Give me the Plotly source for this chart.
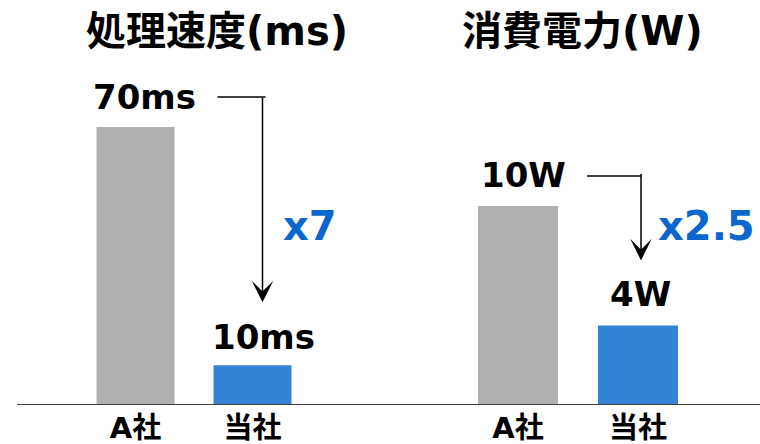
import plotly.graph_objects as go

# Data
companies = ["A社", "当社"]
speed_ms = [70, 10]
power_w = [10, 4]
speed_labels = ["70ms", "10ms"]
power_labels = ["10W", "4W"]
speed_ratio = "x7"
power_ratio = "x2.5"
titles = ["処理速度(ms)", "消費電力(W)"]

GRAY = "#afafaf"
BLUE = "#3483d6"
ACCENT = "#0b67cd"
FONT = "DejaVu Sans, Noto Sans CJK JP, sans-serif"

W, H = 760, 444

fig = go.Figure()
fig.add_trace(go.Bar(x=companies, y=speed_ms, marker=dict(color=[GRAY, BLUE], line=dict(width=0)),
                     xaxis="x", yaxis="y", hoverinfo="skip"))
fig.add_trace(go.Bar(x=companies, y=power_w, marker=dict(color=[GRAY, BLUE], line=dict(width=0)),
                     xaxis="x2", yaxis="y2", hoverinfo="skip"))

tickfont = dict(family=FONT, size=29, color="black", weight="bold")
common_x = dict(type="category", showgrid=False, zeroline=False, showline=False,
                ticks="", tickfont=tickfont, ticklabelstandoff=3, automargin=False,
                fixedrange=True)
common_y = dict(showgrid=False, zeroline=False, showline=False, showticklabels=False,
                automargin=False, domain=[39 / H, 1], fixedrange=True)

fig.update_layout(
    width=W, height=H,
    margin=dict(l=0, r=0, t=0, b=0, autoexpand=False),
    paper_bgcolor="white", plot_bgcolor="white",
    showlegend=False, bargap=1/3,
    xaxis=dict(domain=[77 / W, 317 / W], anchor="y", **common_x),
    yaxis=dict(range=[0, 405 / 3.97], anchor="x", **common_y),
    xaxis2=dict(domain=[458 / W, 698 / W], anchor="y2", **common_x),
    yaxis2=dict(range=[0, 405 / 19.9], anchor="x2", **common_y),
)

# baseline across both panels
fig.add_shape(type="line", xref="paper", yref="y", x0=17 / W, x1=1, y0=0, y1=0,
              line=dict(color="#404040", width=2), layer="above")

annotations = []
# panel titles
for t, cx in zip(titles, [217.5, 582.5]):
    annotations.append(dict(text=t, xref="paper", yref="paper", x=cx / W, y=1 - 31 / H,
                            xanchor="center", yanchor="middle", showarrow=False,
                            font=dict(family=FONT, size=40, color="black", weight="bold")))

# value labels above bars
label_font = dict(family=FONT, size=34, color="black", weight="bold")
for (xa, ya), vals, labs, xs, ys in [
    (("x", "y"), speed_ms, speed_labels, [9, 11], [30, 28]),
    (("x2", "y2"), power_w, power_labels, [5, 2], [31, 31]),
]:
    for i in range(2):
        annotations.append(dict(text=labs[i], xref=xa, yref=ya, x=i, y=vals[i],
                                xshift=xs[i], yshift=ys[i], xanchor="center", yanchor="middle",
                                showarrow=False, font=label_font))

# connector arrows: horizontal leg from the A社 label, then down towards 当社
for (xa, ya), vals, h0, h1, vx, tip_up, drop in [
    (("x", "y"), speed_ms, 82, 130, 10, 63, 206),
    (("x2", "y2"), power_w, 69, 123, 3, 65, 88),
]:
    fig.add_shape(type="line", xref=xa, yref=ya, xsizemode="pixel", ysizemode="pixel",
                  xanchor=0, yanchor=vals[0], x0=h0, x1=h1, y0=30, y1=30,
                  line=dict(color="black", width=1.5))
    annotations.append(dict(text="", xref=xa, yref=ya, x=1, y=vals[1],
                            xshift=vx, yshift=tip_up, showarrow=True,
                            ax=0, ay=-drop, axref="pixel", ayref="pixel",
                            arrowhead=3, arrowsize=2.4, arrowwidth=1.5,
                            arrowcolor="black", standoff=0))

# ratio callouts
ratio_font = dict(family=FONT, size=40, color=ACCENT, weight="bold")
for t, cx in [(speed_ratio, 309.5), (power_ratio, 706)]:
    annotations.append(dict(text=t, xref="paper", yref="paper", x=cx / W, y=1 - 226 / H,
                            xanchor="center", yanchor="middle", showarrow=False, font=ratio_font))

fig.update_layout(annotations=annotations)
fig.write_html("out.html")
